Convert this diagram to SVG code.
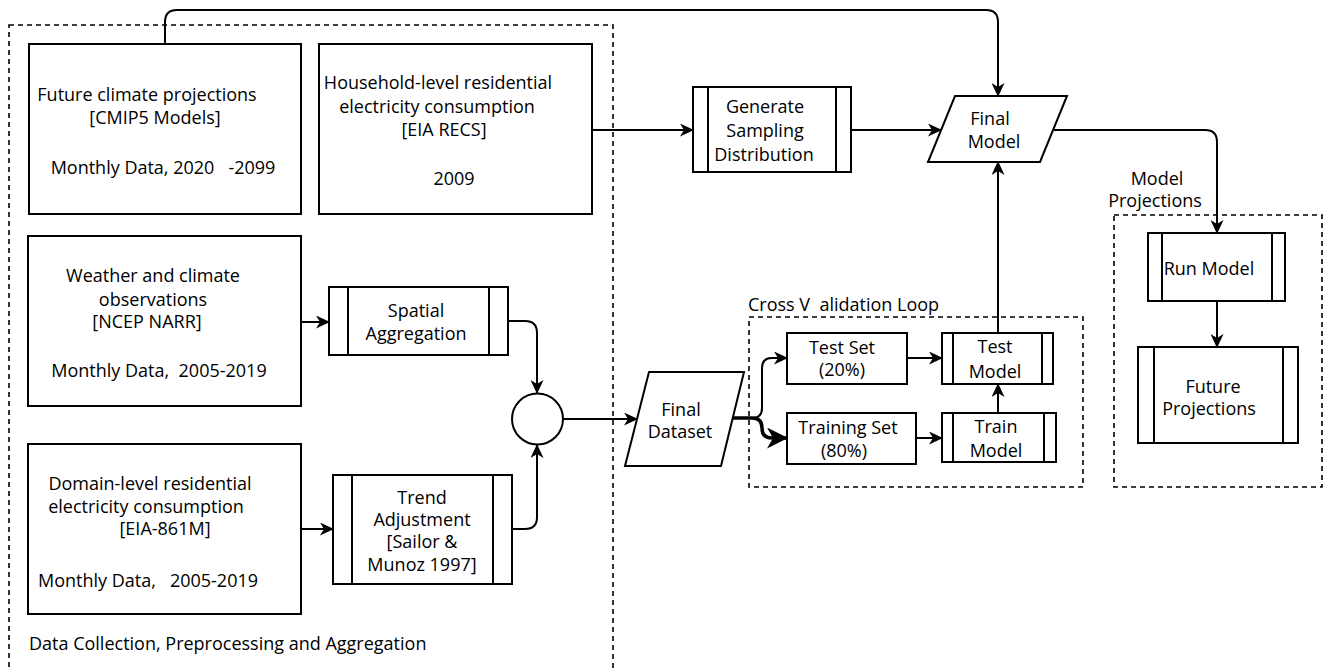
<svg xmlns="http://www.w3.org/2000/svg" width="1325" height="669" viewBox="0 0 1325 669">
  <style>
    .box { fill: #fff; stroke: #000; stroke-width: 2; }
    .div { fill: none; stroke: #000; stroke-width: 2; }
    .grp { fill: none; stroke: #000; stroke-width: 1.6; stroke-dasharray: 5 4; }
    .edge { fill: none; stroke: #000; stroke-width: 2; }
    .thick { fill: none; stroke: #000; stroke-width: 3.5; }
    text { font-family: "Open Sans", "Liberation Sans", sans-serif; font-size: 18px; fill: #000; white-space: pre; }
    .c { text-anchor: middle; }
  </style>
  <defs>
    <marker id="arrow" viewBox="0 0 14 13" refX="13" refY="6.5" markerWidth="14" markerHeight="13" orient="auto" markerUnits="userSpaceOnUse">
      <path d="M0,0 L14,6.5 L0,13 L4,6.5 Z" fill="#000"/>
    </marker>
    <marker id="arrowBig" viewBox="0 0 21 21" refX="20" refY="10.5" markerWidth="21" markerHeight="21" orient="auto" markerUnits="userSpaceOnUse">
      <path d="M0,0 L21,10.5 L0,21 L6,10.5 Z" fill="#000"/>
    </marker>
  </defs>

  <rect width="1325" height="669" fill="#fff"/>

  <!-- group frames -->
  <g id="group-data-collection">
    <rect class="grp" x="9" y="25" width="604" height="680"/>
    <text x="29" y="650" xml:space="preserve">Data Collection, Preprocessing and Aggregation</text>
  </g>
  <g id="group-cross-validation">
    <rect class="grp" x="749" y="317" width="334" height="170"/>
    <text x="748" y="311" xml:space="preserve">Cross V  alidation Loop</text>
  </g>
  <g id="group-model-projections">
    <rect class="grp" x="1114" y="215" width="208" height="272"/>
    <text class="c" x="1157" y="185">Model</text>
    <text class="c" x="1155" y="207">Projections</text>
  </g>

  <!-- connectors -->
  <g id="connectors">
    <path class="edge" d="M165,44 L165,22 Q165,10 177,10 L986,10 Q998,10 998,22 L998,96" marker-end="url(#arrow)"/>
    <path class="edge" d="M592,130 L693,130" marker-end="url(#arrow)"/>
    <path class="edge" d="M851,130 L941,130" marker-end="url(#arrow)"/>
    <path class="edge" d="M1054,130 L1205,130 Q1217,130 1217,142 L1217,233" marker-end="url(#arrow)"/>
    <path class="edge" d="M1217,301 L1217,347" marker-end="url(#arrow)"/>
    <path class="edge" d="M301,322 L329,322" marker-end="url(#arrow)"/>
    <path class="edge" d="M301,529 L333,529" marker-end="url(#arrow)"/>
    <path class="edge" d="M508,321 L525,321 Q537,321 537,333 L537,393" marker-end="url(#arrow)"/>
    <path class="edge" d="M512,529 L525,529 Q537,529 537,517 L537,445" marker-end="url(#arrow)"/>
    <path class="edge" d="M563,419 L637,419" marker-end="url(#arrow)"/>
    <path class="edge" d="M733,418 L752,418 Q762,418 762,408 L762,368 Q762,358 772,358 L787,358" marker-end="url(#arrow)"/>
    <path class="thick" d="M733,418 L752,418 Q762,418 762,428 Q762,438 772,438 L787,438" marker-end="url(#arrowBig)"/>
    <path class="edge" d="M907,358 L942,358" marker-end="url(#arrow)"/>
    <path class="edge" d="M916,438 L942,438" marker-end="url(#arrow)"/>
    <path class="edge" d="M998,413 L998,384" marker-end="url(#arrow)"/>
    <path class="edge" d="M998,333 L998,162" marker-end="url(#arrow)"/>
  </g>

  <!-- data sources -->
  <g id="future-climate">
    <rect class="box" x="29" y="44" width="272" height="170"/>
    <text class="c" x="147" y="101">Future climate projections</text>
    <text class="c" x="155" y="124">[CMIP5 Models]</text>
    <text class="c" x="163" y="174" xml:space="preserve">Monthly Data, 2020   -2099</text>
  </g>
  <g id="household-consumption">
    <rect class="box" x="319" y="44" width="273" height="170"/>
    <text class="c" x="438" y="89">Household-level residential</text>
    <text class="c" x="437" y="113">electricity consumption</text>
    <text class="c" x="444" y="136">[EIA RECS]</text>
    <text class="c" x="454" y="185">2009</text>
  </g>
  <g id="weather-observations">
    <rect class="box" x="28" y="236" width="273" height="170"/>
    <text class="c" x="153" y="282">Weather and climate</text>
    <text class="c" x="153" y="306">observations</text>
    <text class="c" x="147" y="328">[NCEP NARR]</text>
    <text class="c" x="159" y="377" xml:space="preserve">Monthly Data,  2005-2019</text>
  </g>
  <g id="domain-consumption">
    <rect class="box" x="28" y="444" width="273" height="170"/>
    <text class="c" x="150" y="490">Domain-level residential</text>
    <text class="c" x="146" y="513">electricity consumption</text>
    <text class="c" x="165" y="535">[EIA-861M]</text>
    <text class="c" x="148" y="587" xml:space="preserve">Monthly Data,   2005-2019</text>
  </g>

  <!-- processes -->
  <g id="spatial-aggregation">
    <rect class="box" x="329" y="287" width="179" height="68"/>
    <path class="div" d="M348,287 V355 M489,287 V355"/>
    <text class="c" x="416" y="317">Spatial</text>
    <text class="c" x="416" y="340">Aggregation</text>
  </g>
  <g id="trend-adjustment">
    <rect class="box" x="333" y="475" width="179" height="109"/>
    <path class="div" d="M352,475 V584 M493,475 V584"/>
    <text class="c" x="422" y="504">Trend</text>
    <text class="c" x="422" y="526">Adjustment</text>
    <text class="c" x="422" y="548">[Sailor &amp;</text>
    <text class="c" x="422" y="571">Munoz 1997]</text>
  </g>
  <g id="merge">
    <circle class="box" cx="537.5" cy="419" r="25.5"/>
  </g>
  <g id="final-dataset">
    <polygon class="box" points="649,372 744,372 721,466 625,466"/>
    <text class="c" x="681" y="416">Final</text>
    <text class="c" x="680" y="438">Dataset</text>
  </g>
  <g id="generate-sampling">
    <rect class="box" x="693" y="87" width="158" height="85"/>
    <path class="div" d="M708,87 V172 M836,87 V172"/>
    <text class="c" x="765" y="113">Generate</text>
    <text class="c" x="765" y="137">Sampling</text>
    <text class="c" x="764" y="161">Distribution</text>
  </g>
  <g id="final-model">
    <polygon class="box" points="955,96 1067,96 1040,162 928,162"/>
    <text class="c" x="990" y="125">Final</text>
    <text class="c" x="994" y="148">Model</text>
  </g>
  <g id="test-set">
    <rect class="box" x="787" y="333" width="120" height="51"/>
    <text class="c" x="842" y="354">Test Set</text>
    <text class="c" x="842" y="376">(20%)</text>
  </g>
  <g id="training-set">
    <rect class="box" x="787" y="413" width="129" height="51"/>
    <text class="c" x="848" y="434">Training Set</text>
    <text class="c" x="844" y="457">(80%)</text>
  </g>
  <g id="test-model">
    <rect class="box" x="942" y="333" width="111" height="51"/>
    <path class="div" d="M953,333 V384 M1042,333 V384"/>
    <text class="c" x="995" y="353">Test</text>
    <text class="c" x="995" y="378">Model</text>
  </g>
  <g id="train-model">
    <rect class="box" x="942" y="413" width="114" height="49"/>
    <path class="div" d="M953,413 V462 M1044,413 V462"/>
    <text class="c" x="996" y="433">Train</text>
    <text class="c" x="996" y="457">Model</text>
  </g>
  <g id="run-model">
    <rect class="box" x="1148" y="233" width="137" height="68"/>
    <path class="div" d="M1162,233 V301 M1272,233 V301"/>
    <text class="c" x="1209" y="275">Run Model</text>
  </g>
  <g id="future-projections">
    <rect class="box" x="1138" y="347" width="160" height="96"/>
    <path class="div" d="M1154,347 V443 M1283,347 V443"/>
    <text class="c" x="1213" y="393">Future</text>
    <text class="c" x="1209" y="415">Projections</text>
  </g>
</svg>
